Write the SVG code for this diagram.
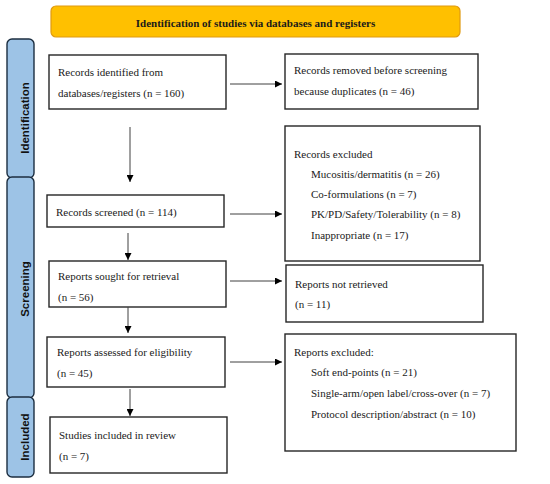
<svg xmlns="http://www.w3.org/2000/svg" width="550" height="484" viewBox="0 0 550 484">
<defs>
<marker id="ah" viewBox="0 0 10 10" refX="10" refY="5" markerWidth="7" markerHeight="7" markerUnits="userSpaceOnUse" orient="auto">
<path d="M0,0 L10,5 L0,10 z" fill="#000"/>
</marker>
</defs>
<style>
.box{fill:#fff;stroke:#262626;stroke-width:1.4}
.t{font-family:"Liberation Serif","Times New Roman",serif;font-size:11px;fill:#1a1a1a}
.side{fill:#9DC3E6;stroke:#1c2e40;stroke-width:1.4}
.st{font-family:"Liberation Sans",Arial,sans-serif;font-size:11.5px;font-weight:bold;fill:#111;text-anchor:middle}
.c{stroke:#404040;stroke-width:1;fill:none;marker-end:url(#ah)}
</style>
<g id="header">
<rect x="51" y="6" width="409" height="31" rx="5" fill="#FFC000" stroke="#E09A10" stroke-width="1.2"/>
<text x="255.5" y="27" class="t" style="font-weight:bold;text-anchor:middle;font-size:11px">Identification of studies via databases and registers</text>
</g>
<g id="phase-identification">
<rect x="7" y="39" width="27" height="139" rx="5" class="side"/>
<text class="st" transform="translate(24.5,118) rotate(-90)" dy="4">Identification</text>
</g>
<g id="phase-screening">
<rect x="7" y="177" width="27" height="221" rx="5" class="side"/>
<text class="st" transform="translate(24.5,289) rotate(-90)" dy="4">Screening</text>
</g>
<g id="phase-included">
<rect x="7" y="397" width="27" height="80" rx="5" class="side"/>
<text class="st" transform="translate(24.5,437) rotate(-90)" dy="4">Included</text>
</g>
<g id="records-identified">
<rect x="49" y="55" width="177" height="54" class="box"/>
<text class="t" x="58" y="76">Records identified from</text>
<text class="t" x="58" y="97">databases/registers (n = 160)</text>
</g>
<g id="records-removed">
<rect x="285" y="54" width="193" height="55" class="box"/>
<text class="t" x="294" y="74">Records removed before screening</text>
<text class="t" x="294" y="95">because duplicates (n = 46)</text>
</g>
<g id="records-excluded">
<rect x="285" y="126" width="195" height="135" class="box"/>
<text class="t" x="294" y="158">Records excluded</text>
<text class="t" x="311" y="178">Mucositis/dermatitis (n = 26)</text>
<text class="t" x="311" y="198">Co-formulations (n = 7)</text>
<text class="t" x="311" y="218">PK/PD/Safety/Tolerability (n = 8)</text>
<text class="t" x="311" y="239">Inappropriate (n = 17)</text>
</g>
<g id="records-screened">
<rect x="47" y="195" width="177" height="32" class="box"/>
<text class="t" x="56" y="216">Records screened (n = 114)</text>
</g>
<g id="reports-sought">
<rect x="49" y="261" width="177" height="46" class="box"/>
<text class="t" x="58" y="280">Reports sought for retrieval</text>
<text class="t" x="58" y="301">(n = 56)</text>
</g>
<g id="reports-not-retrieved">
<rect x="286" y="265" width="197" height="57" class="box"/>
<text class="t" x="295" y="288">Reports not retrieved</text>
<text class="t" x="295" y="308">(n = 11)</text>
</g>
<g id="reports-assessed">
<rect x="47" y="337" width="178" height="50" class="box"/>
<text class="t" x="57" y="356">Reports assessed for eligibility</text>
<text class="t" x="57" y="377">(n = 45)</text>
</g>
<g id="reports-excluded">
<rect x="285" y="334" width="231" height="117" class="box"/>
<text class="t" x="294" y="356">Reports excluded:</text>
<text class="t" x="311" y="376">Soft end-points (n = 21)</text>
<text class="t" x="311" y="397">Single-arm/open label/cross-over (n = 7)</text>
<text class="t" x="311" y="418">Protocol description/abstract (n = 10)</text>
</g>
<g id="studies-included">
<rect x="50" y="417" width="177" height="56" class="box"/>
<text class="t" x="59" y="439">Studies included in review</text>
<text class="t" x="59" y="460">(n = 7)</text>
</g>
<g id="connectors">
<line class="c" x1="230" y1="84" x2="282" y2="84"/>
<line class="c" x1="130" y1="127" x2="130" y2="182"/>
<line class="c" x1="230" y1="214" x2="282" y2="214"/>
<line class="c" x1="128" y1="233" x2="128" y2="260"/>
<line class="c" x1="230" y1="281" x2="282" y2="281"/>
<line class="c" x1="128" y1="307" x2="128" y2="333"/>
<line class="c" x1="230" y1="362" x2="282" y2="362"/>
<line class="c" x1="130" y1="389" x2="130" y2="416"/>
</g>
</svg>
